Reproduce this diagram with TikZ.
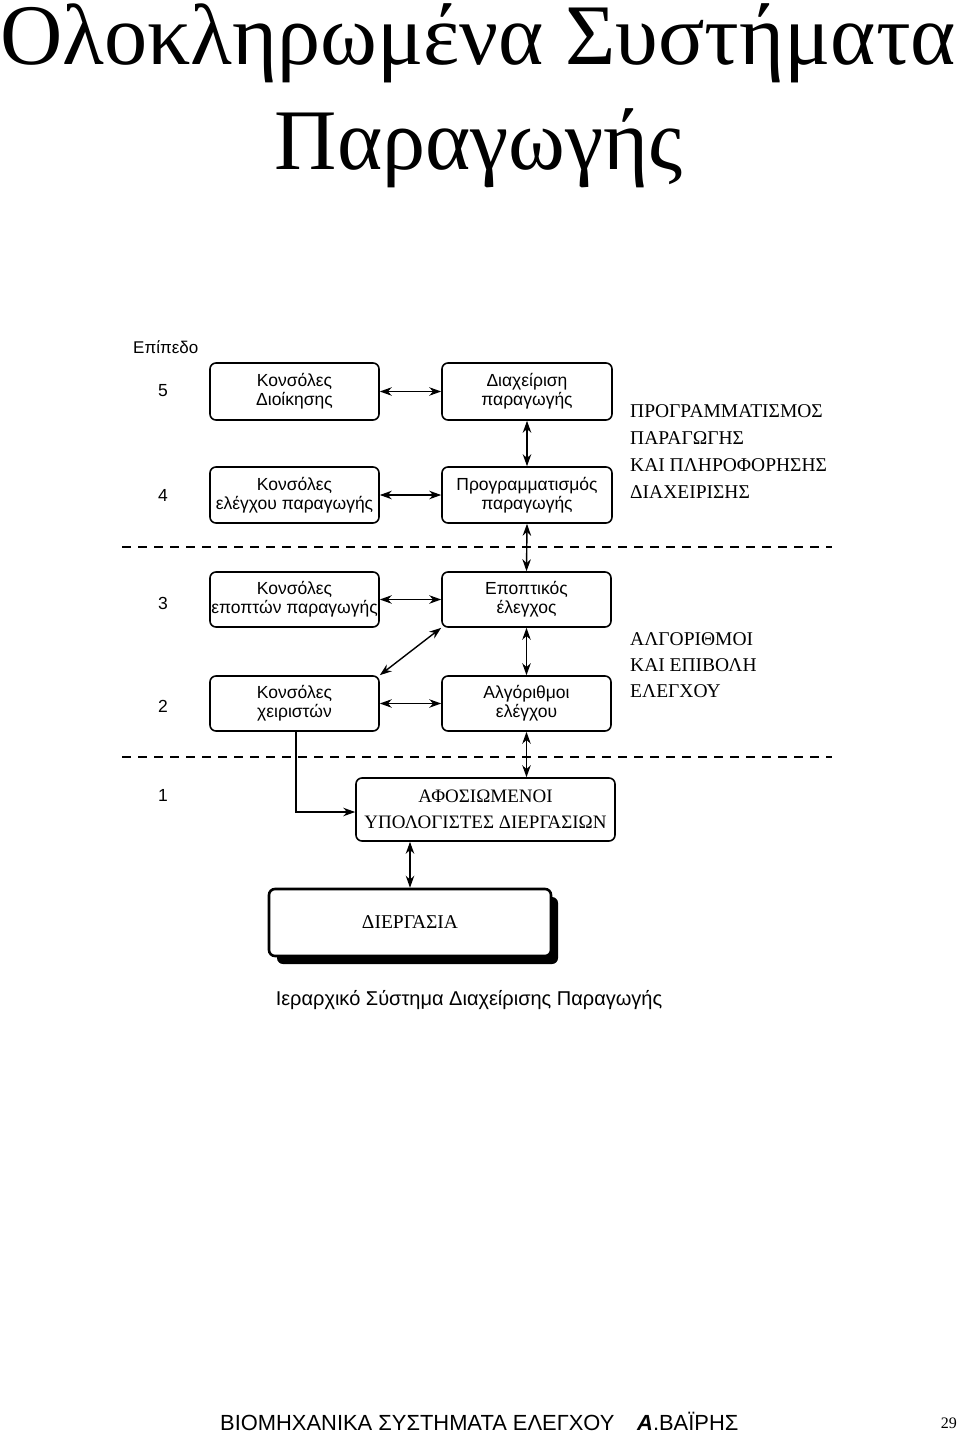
\documentclass[tikz,border=0pt]{standalone}
\usepackage{fontspec}
\setmainfont{Liberation Serif}
\newfontfamily\dsans{Liberation Sans}
\newfontfamily\dserif{Liberation Serif}
\usetikzlibrary{arrows.meta}
\tikzset{
  box/.style={draw, line width=1.6pt, rounded corners=6pt, align=center, inner sep=0pt,
    font=\dsans\fontsize{17.5}{19}\selectfont},
  conn/.style={line width=1.4pt, {Stealth[length=12pt,width=8.5pt]}-{Stealth[length=12pt,width=8.5pt]}},
  oneway/.style={line width=1.4pt, -{Stealth[length=12pt,width=8.5pt]}},
  sep/.style={line width=1.6pt, dash pattern=on 9pt off 7pt},
  lvl/.style={font=\dsans\fontsize{17.5}{19}\selectfont},
  side/.style={font=\dserif\fontsize{19.5}{22}\selectfont, anchor=base west, inner sep=0pt}
}
\begin{document}
\begin{tikzpicture}[x=1pt,y=-1pt]
\useasboundingbox (0,0) rectangle (960,1434);
\fill[white] (0,0) rectangle (960,1434);
% title
\node[anchor=base, inner sep=0pt, font=\fontsize{86.3}{100}\selectfont] (t1) at (478,65) {Ολοκληρωμένα Συστήματα};
\node[anchor=base, inner sep=0pt, font=\fontsize{86.3}{100}\selectfont] (t2) at (479,170) {Παραγωγής};
% level label
\node[anchor=base west, inner sep=0pt, font=\dsans\fontsize{17}{18}\selectfont] (lev) at (133,353) {Επίπεδο};
\node[lvl] (n5) at (163,391) {5};
\node[lvl] (n4) at (163,495) {4};
\node[lvl] (n3) at (163,603) {3};
\node[lvl] (n2) at (163,706) {2};
\node[lvl] (n1) at (163,795) {1};
% boxes
\node[box, minimum width=169pt, minimum height=57pt] (A5) at (294.5,391.5) {Κονσόλες\\Διοίκησης};
\node[box, minimum width=170pt, minimum height=57pt] (B5) at (527,391.5) {Διαχείριση\\παραγωγής};
\node[box, minimum width=169pt, minimum height=56pt] (A4) at (294.5,495) {Κονσόλες\\ελέγχου παραγωγής};
\node[box, minimum width=170pt, minimum height=56pt] (B4) at (527,495) {Προγραμματισμός\\παραγωγής};
\node[box, minimum width=169pt, minimum height=55pt] (A3) at (294.5,599.5) {Κονσόλες\\εποπτών παραγωγής};
\node[box, minimum width=169pt, minimum height=55pt] (B3) at (526.5,599.5) {Εποπτικός\\έλεγχος};
\node[box, minimum width=169pt, minimum height=55pt] (A2) at (294.5,703.5) {Κονσόλες\\χειριστών};
\node[box, minimum width=169pt, minimum height=55pt] (B2) at (526.5,703.5) {Αλγόριθμοι\\ελέγχου};
\node[box, minimum width=259pt, minimum height=63pt, font=\dserif\fontsize{19}{26}\selectfont] (D1) at (485.5,809.5) {ΑΦΟΣΙΩΜΕΝΟΙ\\ΥΠΟΛΟΓΙΣΤΕΣ ΔΙΕΡΓΑΣΙΩΝ};
% process box with shadow
\fill[black, rounded corners=6pt] (277,897) rectangle (558,964);
\node[box, fill=white, line width=2.6pt, minimum width=282pt, minimum height=67pt, font=\dserif\fontsize{19.5}{20}\selectfont] (P) at (410,922.5) {ΔΙΕΡΓΑΣΙΑ};
% side texts
\node[side] (s1a) at (630,417) {ΠΡΟΓΡΑΜΜΑΤΙΣΜΟΣ};
\node[side] (s1b) at (630,444) {ΠΑΡΑΓΩΓΗΣ};
\node[side] (s1c) at (630,471) {ΚΑΙ ΠΛΗΡΟΦΟΡΗΣΗΣ};
\node[side] (s1d) at (630,498) {ΔΙΑΧΕΙΡΙΣΗΣ};
\node[side] (s2a) at (630,645) {ΑΛΓΟΡΙΘΜΟΙ};
\node[side] (s2b) at (630,671) {ΚΑΙ ΕΠΙΒΟΛΗ};
\node[side] (s2c) at (630,697) {ΕΛΕΓΧΟΥ};
% separators
\coordinate (d1a) at (122,547); \coordinate (d1b) at (832,547);
\coordinate (d2a) at (122,757); \coordinate (d2b) at (832,757);
\draw[sep] (d1a) -- (d1b);
\draw[sep] (d2a) -- (d2b);
% connectors
\draw[conn] (A5.east) -- (B5.west);
\draw[conn] (A4.east) -- (B4.west);
\draw[conn] (A3.east) -- (B3.west);
\draw[conn] (A2.east) -- (B2.west);
\draw[conn] (B5.south) -- (B4.north);
\draw[conn] (B4.south) -- (B3.north);
\draw[conn] (B3.south) -- (B2.north);
\draw[conn] (B3.south west) -- (A2.north east);
\draw[conn] (B2.south) -- (B2.south |- D1.north);
\draw[oneway] ([xshift=1.5pt]A2.south) |- ([yshift=-2.5pt]D1.west);
\draw[conn] (P.north) -- (P.north |- D1.south);
% caption
\node[anchor=base, inner sep=0pt, font=\dsans\fontsize{20}{22}\selectfont] (cap) at (469,1005) {Ιεραρχικό Σύστημα Διαχείρισης Παραγωγής};
% footer
\node[anchor=base west, inner sep=0pt, font=\dsans\fontsize{21.9}{26}\selectfont] (f1) at (220,1430) {ΒΙΟΜΗΧΑΝΙΚΑ ΣΥΣΤΗΜΑΤΑ ΕΛΕΓΧΟΥ};
\node[anchor=base west, inner sep=0pt, font=\dsans\fontsize{21.9}{26}\selectfont] (f2) at (637,1430) {\textbf{\textit{Α}}.ΒΑΪΡΗΣ};
\node[anchor=base east, inner sep=0pt, font=\fontsize{16}{18}\selectfont] (pg) at (957,1428) {29};
\end{tikzpicture}
\end{document}
